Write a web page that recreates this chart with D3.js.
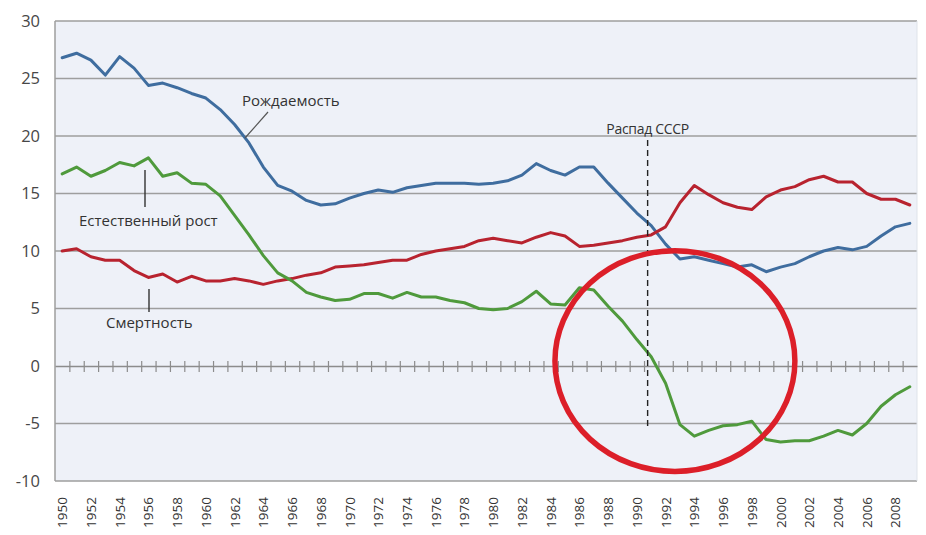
<!DOCTYPE html>
<html><head><meta charset="utf-8">
<script src="https://cdn.jsdelivr.net/npm/d3@7"></script>
<style>
html,body{margin:0;padding:0;background:#fff;}
svg{display:block;font-family:"Open Sans","Noto Sans",sans-serif;}
</style></head>
<body><svg id="c" width="926" height="535"></svg>
<script>
const years = d3.range(1950, 2010);
const yTicks = [-10, -5, 0, 5, 10, 15, 20, 25, 30];
const xLabelYears = d3.range(1950, 2010, 2);

const birthRate = [
  26.8, 27.2, 26.6, 25.3, 26.9, 25.9, 24.4, 24.6, 24.2, 23.7,
  23.3, 22.3, 21.0, 19.4, 17.3, 15.7, 15.2, 14.4, 14.0, 14.1,
  14.6, 15.0, 15.3, 15.1, 15.5, 15.7, 15.9, 15.9, 15.9, 15.8,
  15.9, 16.1, 16.6, 17.6, 17.0, 16.6, 17.3, 17.3, 15.9, 14.6,
  13.3, 12.2, 10.6, 9.3, 9.5, 9.2, 8.9, 8.6, 8.8, 8.2,
  8.6, 8.9, 9.5, 10.0, 10.3, 10.1, 10.4, 11.3, 12.1, 12.4
];
const deathRate = [
  10.0, 10.2, 9.5, 9.2, 9.2, 8.3, 7.7, 8.0, 7.3, 7.8,
  7.4, 7.4, 7.6, 7.4, 7.1, 7.4, 7.6, 7.9, 8.1, 8.6,
  8.7, 8.8, 9.0, 9.2, 9.2, 9.7, 10.0, 10.2, 10.4, 10.9,
  11.1, 10.9, 10.7, 11.2, 11.6, 11.3, 10.4, 10.5, 10.7, 10.9,
  11.2, 11.4, 12.1, 14.2, 15.7, 14.9, 14.2, 13.8, 13.6, 14.7,
  15.3, 15.6, 16.2, 16.5, 16.0, 16.0, 15.0, 14.5, 14.5, 14.0
];
const naturalGrowth = [
  16.7, 17.3, 16.5, 17.0, 17.7, 17.4, 18.1, 16.5, 16.8, 15.9,
  15.8, 14.8, 13.1, 11.4, 9.6, 8.1, 7.4, 6.4, 6.0, 5.7,
  5.8, 6.3, 6.3, 5.9, 6.4, 6.0, 6.0, 5.7, 5.5, 5.0,
  4.9, 5.0, 5.6, 6.5, 5.4, 5.3, 6.8, 6.6, 5.2, 3.9,
  2.3, 0.8, -1.5, -5.1, -6.1, -5.6, -5.2, -5.1, -4.8, -6.4,
  -6.6, -6.5, -6.5, -6.1, -5.6, -6.0, -5.0, -3.5, -2.5, -1.8
];
const seriesNames = ["Рождаемость", "Смертность", "Естественный рост"];
const seriesColors = ["#3f6d9f", "#b8232f", "#4f9a3c"];
const collapseLabel = "Распад СССР";
const collapseYear = 1990.75;

const svg = d3.select("#c");
const L = 55, R = 917, T = 21, B = 481;
const x = d3.scaleLinear().domain([1949.5, 2009.5]).range([L, R]);
const y = d3.scaleLinear().domain([-10, 30]).range([B, T]);

// plot background
svg.append("rect").attr("x", L).attr("y", T).attr("width", R - L).attr("height", B - T)
  .attr("fill", "#eef1f8");

// gridlines
svg.append("g").selectAll("line").data(yTicks.filter(v => v !== 0)).join("line")
  .attr("x1", L).attr("x2", R).attr("y1", d => y(d)).attr("y2", d => y(d))
  .attr("stroke", "#9e9e9e").attr("stroke-width", 1.5);
// left & right borders
svg.append("line").attr("x1", L).attr("x2", L).attr("y1", T).attr("y2", B)
  .attr("stroke", "#9e9e9e").attr("stroke-width", 1.5);
svg.append("line").attr("x1", R).attr("x2", R).attr("y1", T).attr("y2", B)
  .attr("stroke", "#dfe3ea").attr("stroke-width", 1);

// y axis labels
const yAxis = d3.axisLeft(y).tickValues(yTicks).tickSize(0).tickPadding(0).tickFormat(d => String(d));
const gy = svg.append("g").attr("transform", `translate(40,0)`).call(yAxis);
gy.select(".domain").remove();
gy.selectAll("text").attr("font-size", 16.5).attr("fill", "#474747")
  .attr("font-family", "'Open Sans','Noto Sans',sans-serif");

// zero axis with cross ticks
const zeroTicks = d3.range(1950.5, 2009.5, 1);
const xAxis = d3.axisBottom(x).tickValues(zeroTicks).tickSizeInner(6).tickSizeOuter(0).tickFormat("");
const gx = svg.append("g").attr("transform", `translate(0,${y(0)})`).call(xAxis);
gx.select(".domain").attr("stroke", "#8c8c8c").attr("stroke-width", 1.5);
gx.selectAll(".tick line").attr("stroke", "#8c8c8c").attr("stroke-width", 1.2)
  .attr("y1", -5).attr("y2", 6);

// x labels
svg.append("g").selectAll("text").data(xLabelYears).join("text")
  .attr("transform", d => `translate(${x(d) + 5},497) rotate(-90)`)
  .attr("text-anchor", "end").attr("font-size", 13.5).attr("fill", "#333")
  .text(d => d);

// lines
const allSeries = [birthRate, deathRate, naturalGrowth];
const line = d3.line().x((d, i) => x(years[i])).y(d => y(d));
svg.append("g").selectAll("path").data(allSeries).join("path")
  .attr("d", line).attr("fill", "none")
  .attr("stroke", (d, i) => seriesColors[i]).attr("stroke-width", 3)
  .attr("stroke-linejoin", "round").attr("stroke-linecap", "round");

// annotations
const ann = svg.append("g").attr("font-size", 15).attr("fill", "#333");
ann.append("text").attr("x", 242).attr("y", 106).text(seriesNames[0]);
ann.append("line").attr("x1", 268).attr("y1", 112).attr("x2", 245).attr("y2", 138)
  .attr("stroke", "#555").attr("stroke-width", 1.2);
ann.append("text").attr("x", 106).attr("y", 328).text(seriesNames[1]);
ann.append("line").attr("x1", 149).attr("y1", 289).attr("x2", 149).attr("y2", 312)
  .attr("stroke", "#333").attr("stroke-width", 1.4);
ann.append("text").attr("x", 79).attr("y", 226).text(seriesNames[2]);
ann.append("line").attr("x1", 145).attr("y1", 170).attr("x2", 145).attr("y2", 207)
  .attr("stroke", "#333").attr("stroke-width", 1.4);

// USSR collapse
svg.append("line").attr("x1", x(collapseYear)).attr("x2", x(collapseYear))
  .attr("y1", 140).attr("y2", y(-5.3))
  .attr("stroke", "#222").attr("stroke-width", 1.4).attr("stroke-dasharray", "6,4");
svg.append("text").attr("x", x(collapseYear)).attr("y", 134).attr("text-anchor", "middle")
  .attr("font-size", 14).attr("letter-spacing", -0.3).attr("fill", "#333").text(collapseLabel);

// red circle
const cx = x(1992.65), cy = y(0.43);
svg.append("ellipse").attr("cx", cx).attr("cy", cy)
  .attr("rx", x(1992.65 + 8.35) - cx).attr("ry", y(0.43) - y(0.43 + 9.6))
  .attr("fill", "none").attr("stroke", "#dc1f29").attr("stroke-width", 5.5);
</script></body></html>
